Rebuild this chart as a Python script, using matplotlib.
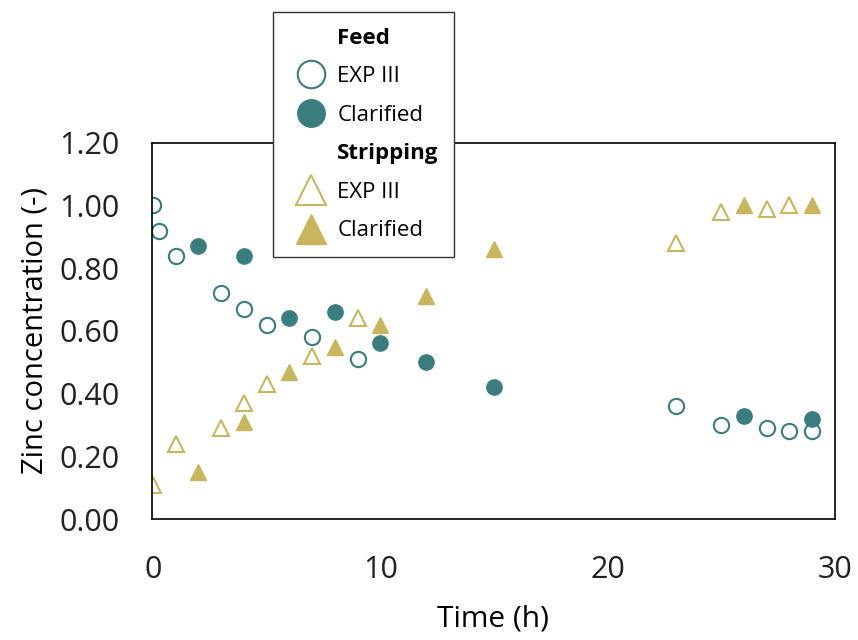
import matplotlib
matplotlib.use("Agg")
import matplotlib.pyplot as plt
from matplotlib.lines import Line2D

TEAL = "#3a7d7e"
GOLD = "#c9b55c"

# Feed, EXP III (open circles)
feed_exp_t = [0, 0.25, 1, 3, 4, 5, 7, 9, 23, 25, 27, 28, 29]
feed_exp_c = [1.00, 0.92, 0.84, 0.72, 0.67, 0.62, 0.58, 0.51, 0.36, 0.30, 0.29, 0.28, 0.28]

# Feed, Clarified (filled circles)
feed_cl_t = [2, 4, 6, 8, 10, 12, 15, 26, 29]
feed_cl_c = [0.87, 0.84, 0.64, 0.66, 0.56, 0.50, 0.42, 0.33, 0.32]

# Stripping, EXP III (open triangles)
strip_exp_t = [0, 1, 3, 4, 5, 7, 9, 23, 25, 27, 28]
strip_exp_c = [0.11, 0.24, 0.29, 0.37, 0.43, 0.52, 0.64, 0.88, 0.98, 0.99, 1.00]

# Stripping, Clarified (filled triangles)
strip_cl_t = [2, 4, 6, 8, 10, 12, 15, 26, 29]
strip_cl_c = [0.15, 0.31, 0.47, 0.55, 0.62, 0.71, 0.86, 1.00, 1.00]

plt.rcParams["font.family"] = ["Open Sans", "DejaVu Sans"]

fig = plt.figure(figsize=(8.58, 6.4), dpi=100)
ax = fig.add_axes([0.177, 0.189, 0.796, 0.588])

ax.plot(feed_exp_t, feed_exp_c, "o", ms=11, mfc="white", mec=TEAL, mew=1.5, ls="none")
ax.plot(feed_cl_t, feed_cl_c, "o", ms=11, mfc=TEAL, mec=TEAL, ls="none")
ax.plot(strip_exp_t, strip_exp_c, "^", ms=12, mfc="white", mec=GOLD, mew=1.5, ls="none")
ax.plot(strip_cl_t, strip_cl_c, "^", ms=12, mfc=GOLD, mec=GOLD, ls="none")

ax.set_xlim(-0.05, 30)
ax.set_ylim(0, 1.2)
ax.set_xticks([0, 10, 20, 30])
ax.set_yticks([0, 0.2, 0.4, 0.6, 0.8, 1.0, 1.2])
ax.yaxis.set_major_formatter(matplotlib.ticker.FormatStrFormatter("%.2f"))
ax.tick_params(length=0, labelsize=22, colors="#222222")
ax.tick_params(axis="x", pad=26)
ax.tick_params(axis="y", pad=23)
for s in ax.spines.values():
    s.set_linewidth(1.2)
ax.set_xlabel("Time (h)", fontsize=21.5, labelpad=14)
ax.set_ylabel("Zinc concentration (-)", fontsize=21, labelpad=7)

blank = Line2D([], [], ls="none", marker="")
handles = [
    blank,
    Line2D([], [], ls="none", marker="o", ms=11, mfc="white", mec=TEAL, mew=1.5),
    Line2D([], [], ls="none", marker="o", ms=11, mfc=TEAL, mec=TEAL),
    blank,
    Line2D([], [], ls="none", marker="^", ms=12, mfc="white", mec=GOLD, mew=1.5),
    Line2D([], [], ls="none", marker="^", ms=12, mfc=GOLD, mec=GOLD),
]
labels = ["Feed", "EXP III", "Clarified", "Stripping", "EXP III", "Clarified"]
leg = fig.legend(handles, labels, loc="upper left", bbox_to_anchor=(0.318, 0.981),
                 borderaxespad=0, fontsize=16, markerscale=1.8, labelspacing=0.79,
                 handlelength=2.0, handletextpad=0.2, borderpad=0.7, fancybox=False,
                 framealpha=1, edgecolor="#333333")
leg.get_frame().set_linewidth(1.0)
for i in (0, 3):
    leg.get_texts()[i].set_fontweight("bold")

fig.savefig("out.png", dpi=100)
